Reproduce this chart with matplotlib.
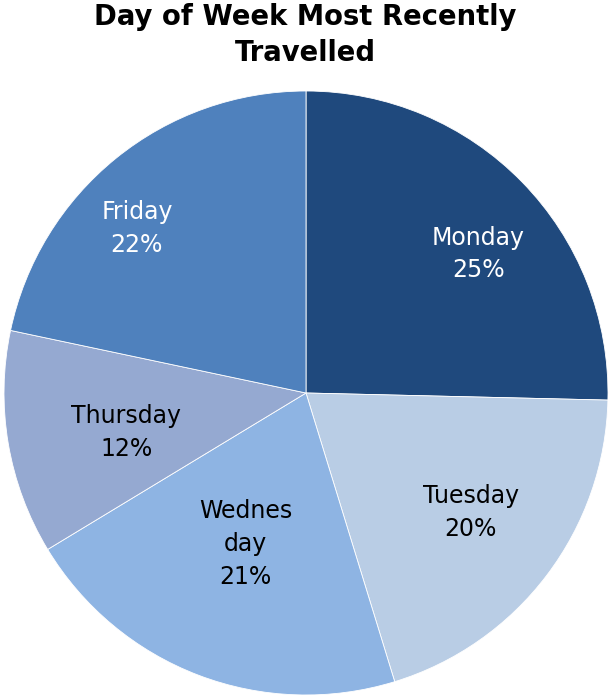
import matplotlib
matplotlib.use("Agg")
import matplotlib.pyplot as plt

# Share of respondents by day of week of most recent trip
days = ["Monday", "Tuesday", "Wednes\nday", "Thursday", "Friday"]
shares = [25.4, 19.9, 21.1, 12.0, 21.7]
colors = ["#1F497D", "#B9CDE5", "#8EB4E3", "#95A9D1", "#4F81BD"]
text_colors = ["white", "black", "black", "black", "white"]
# label anchor points, in units of the pie radius
label_xy = [(0.57, 0.46), (0.545, -0.395), (-0.20, -0.50), (-0.595, -0.13), (-0.56, 0.545)]

W, H = 610, 696
fig = plt.figure(figsize=(W / 100, H / 100), dpi=100)
cx, cy, r = 306, 393, 302
ax = fig.add_axes([(cx - r) / W, (H - cy - r) / H, 2 * r / W, 2 * r / H])

wedges, _ = ax.pie(shares, colors=colors, startangle=90, counterclock=False,
                   radius=1.0, wedgeprops=dict(linewidth=0.6, edgecolor="white"))
ax.set_xlim(-1, 1)
ax.set_ylim(-1, 1)
ax.set_aspect("equal")
ax.axis("off")

total = sum(shares)
for name, v, tc, (x, y) in zip(days, shares, text_colors, label_xy):
    ax.text(x, y, f"{name}\n{v / total * 100:.0f}%", ha="center", va="center",
            color=tc, fontsize=17, linespacing=1.45, family="DejaVu Sans")

fig.text(0.5, 1 - 35 / H, "Day of Week Most Recently\nTravelled", ha="center",
         va="center", fontsize=19.8, fontweight="bold", linespacing=1.32,
         family="DejaVu Sans")

fig.savefig("out.png", dpi=100)
